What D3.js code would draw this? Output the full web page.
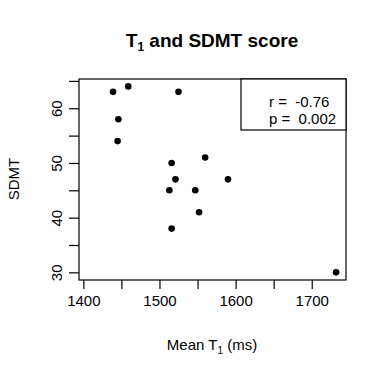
<!DOCTYPE html>
<html>
<head>
<meta charset="utf-8">
<script src="https://cdn.jsdelivr.net/npm/d3@7"></script>
<style>
  body { margin: 0; background: #fff; }
  text { font-family: "Liberation Sans", Arial, sans-serif; fill: #000; }
</style>
</head>
<body>
<div id="chart"></div>
<script>
// mean T1 (ms) and SDMT score per subject
const meanT1 = [1439, 1459, 1525, 1446, 1445, 1516, 1560, 1521, 1590, 1513, 1547, 1552, 1516, 1732];
const sdmt   = [63, 64, 63, 58, 54, 50, 51, 47, 47, 45, 45, 41, 38, 30];
const xTicks = [1400, 1450, 1500, 1550, 1600, 1650, 1700];
const xLabels = [1400, 1500, 1600, 1700];
const yTicks = [30, 35, 40, 45, 50, 55, 60, 65];
const yLabels = [30, 40, 50, 60];
const stats = [["r = ", "-0.76"], ["p = ", "0.002"]];

const canvasWidth = 387, canvasHeight = 378;
const margin = { top: 79, right: 41, bottom: 98, left: 79 };
const width = canvasWidth - margin.left - margin.right;
const height = canvasHeight - margin.top - margin.bottom;

const x = d3.scaleLinear().domain([1394.3, 1745]).range([0, width]);
const y = d3.scaleLinear().domain([28.6, 65.35]).range([height, 0]);

const svg = d3.select("#chart").append("svg")
	.attr("width", canvasWidth)
	.attr("height", canvasHeight);

const g = svg.append("g")
	.attr("transform", "translate(" + margin.left + "," + margin.top + ")");

// axes (R style: ticks outside, labels only on every other tick)
const xAxis = g.append("g")
	.attr("transform", "translate(0," + height + ")")
	.call(d3.axisBottom(x).tickValues(xTicks).tickSize(9).tickSizeOuter(0)
		.tickFormat((d) => (xLabels.includes(d) ? d : "")));
xAxis.select(".domain").remove();
xAxis.selectAll(".tick line").attr("stroke", "#000").attr("stroke-width", 1.2);
xAxis.selectAll(".tick text").attr("font-size", 15).attr("y", 15).attr("dy", "0.71em");

const yAxis = g.append("g")
	.call(d3.axisLeft(y).tickValues(yTicks).tickSize(10).tickSizeOuter(0)
		.tickFormat((d) => (yLabels.includes(d) ? d : "")));
yAxis.select(".domain").remove();
yAxis.selectAll(".tick line").attr("stroke", "#000").attr("stroke-width", 1.2);
yAxis.selectAll(".tick text")
	.attr("font-size", 15)
	.attr("text-anchor", "middle")
	.attr("dy", 0)
	.attr("x", 0)
	.attr("transform", "translate(-23,0) rotate(-90)")
	.attr("y", 0)
	.attr("dominant-baseline", "central");

// plot box
g.append("rect")
	.attr("width", width).attr("height", height)
	.attr("fill", "none").attr("stroke", "#000").attr("stroke-width", 1.2);

// points
g.append("g").selectAll("circle")
	.data(meanT1.map((d, i) => [d, sdmt[i]])).enter()
	.append("circle")
		.attr("cx", (d) => x(d[0]))
		.attr("cy", (d) => y(d[1]))
		.attr("r", 3.3)
		.attr("fill", "#000");

// legend with correlation stats
const legW = 105, legH = 51;
const leg = g.append("g").attr("transform", "translate(" + (width - legW) + ",0)");
leg.append("rect")
	.attr("width", legW).attr("height", legH)
	.attr("fill", "#fff").attr("stroke", "#000").attr("stroke-width", 1.2);
leg.selectAll("text.stat")
	.data(stats).enter()
	.append("text")
		.attr("class", "stat")
		.attr("x", 28)
		.attr("y", (d, i) => 28 + i * 17)
		.attr("font-size", 15)
		.attr("xml:space", "preserve")
		.text((d) => d[0] + " " + d[1]);

// title
const title = svg.append("text")
	.attr("x", 212).attr("y", 47)
	.attr("text-anchor", "middle")
	.attr("font-size", 19).attr("font-weight", "bold");
title.append("tspan").text("T");
title.append("tspan").attr("font-size", 12).attr("dy", 4).text("1");
title.append("tspan").attr("dy", -4).text(" and SDMT score");

// x title
const xt = svg.append("text")
	.attr("x", 212).attr("y", 350)
	.attr("text-anchor", "middle")
	.attr("font-size", 15);
xt.append("tspan").text("Mean T");
xt.append("tspan").attr("font-size", 10).attr("dy", 4).text("1");
xt.append("tspan").attr("dy", -4).text(" (ms)");

// y title
svg.append("text")
	.attr("transform", "translate(19,179) rotate(-90)")
	.attr("text-anchor", "middle")
	.attr("font-size", 15)
	.text("SDMT");
</script>
</body>
</html>
